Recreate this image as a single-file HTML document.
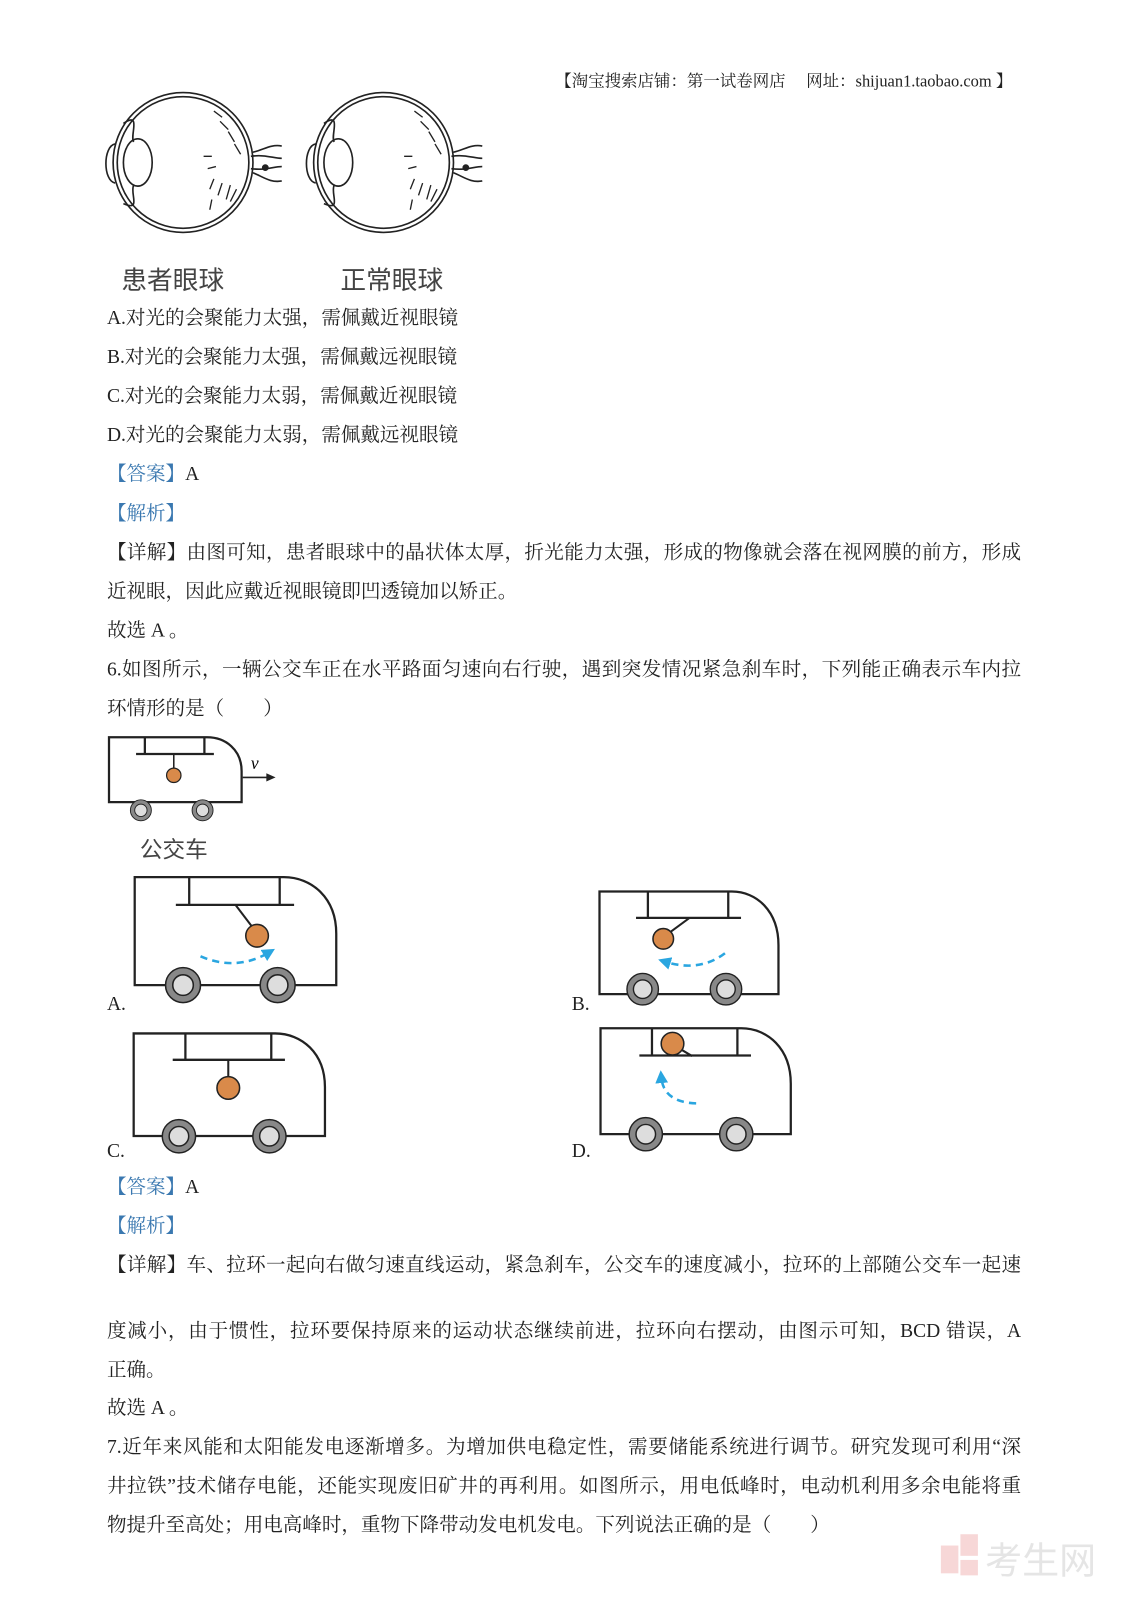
<!DOCTYPE html>
<html><head><meta charset="utf-8"><style>
html,body{margin:0;padding:0;background:#fff}
body{width:1131px;height:1600px;position:relative;overflow:hidden;font-family:"Liberation Serif","Noto Serif CJK SC",serif;color:#222}
#w{position:absolute;left:0;top:0;width:1100px;height:1556px;transform:scale(1.0283);transform-origin:0 0}
.l{position:absolute;left:104px;font-size:19px;line-height:26px;white-space:nowrap}
.j{width:889px;text-align:justify;text-align-last:justify}
.b{color:#3a78b0}
svg{position:absolute;left:0;top:0}
</style></head><body><div id="w">
<div class="l" style="left:540px;top:67px;font-size:16px">【淘宝搜索店铺：第一试卷网店　 网址：shijuan1.taobao.com 】</div>

<svg width="1100" height="1556" viewBox="0 0 1100 1556">
<defs>
<g id="eye" fill="none" stroke="#222" stroke-width="1.6">
<circle cx="0" cy="0" r="68"/><circle cx="0" cy="0" r="64"/>
<path d="M-66,-18 C-78,-16 -78,18 -66,20"/>
<path d="M-58,-38 C-40,-50 -52,-26 -48,-20 M-48,22 C-52,30 -40,48 -58,40"/>
<ellipse cx="-44" cy="0" rx="14" ry="23"/>
<path d="M66,-6 C80,-8 88,-4 96,-4 M66,6 C80,8 88,4 96,4 M68,-10 C78,-12 85,-18 96,-16 M68,10 C78,14 85,20 96,18"/>
<circle cx="80" cy="5" r="2.5" fill="#222"/>
<path d="M30,-50 l8,6 M36,-40 l8,8 M44,-30 l6,10 M50,-18 l6,10 M20,-6 l8,0 M24,6 l8,-2 M30,16 l-4,10 M38,20 l-4,12 M46,22 l-4,14 M52,26 l-6,12 M28,36 l-2,10" stroke-width="1.3"/>
</g>
<g id="bus" fill="none" stroke="#222" stroke-width="2.2">
<path d="M0,0 H145 C172,0 196,20 196,55 V105 H0 Z" vector-effect="non-scaling-stroke"/>
<path d="M53,0 V27 M141,0 V27 M40,27 H155" vector-effect="non-scaling-stroke"/>
</g>
<g id="wh"><circle r="17" fill="#888" stroke="#222" stroke-width="1.5"/><circle r="10" fill="#ddd" stroke="#222" stroke-width="1.5"/></g>
<marker id="ah" viewBox="0 0 10 10" refX="5" refY="5" markerWidth="5" markerHeight="5" orient="auto"><path d="M0,0 L10,5 L0,10 Z" fill="#2aa6e0"/></marker>
</defs>
<use href="#eye" x="178" y="158"/>
<use href="#eye" x="373" y="158"/>

<g transform="translate(106,717) scale(0.658,0.6)"><use href="#bus"/></g>
<use href="#wh" transform="translate(137,788) scale(0.6)"/>
<use href="#wh" transform="translate(197,788) scale(0.6)"/>
<line x1="169" y1="733" x2="169" y2="748" stroke="#222" stroke-width="1.5"/>
<circle cx="169" cy="754" r="7" fill="#d98a4a" stroke="#222" stroke-width="1.2"/>
<line x1="236" y1="756" x2="262" y2="756" stroke="#222" stroke-width="1.6"/>
<path d="M268,756 l-9,-4 v8 z" fill="#222"/>
<text x="244" y="748" font-size="17" font-style="italic" font-family="Liberation Serif">v</text>

<g transform="translate(131,853)"><use href="#bus"/></g>
<use href="#wh" transform="translate(178,958)"/><use href="#wh" transform="translate(270,958)"/>
<line x1="229" y1="880" x2="245" y2="901" stroke="#222" stroke-width="2"/>
<circle cx="250" cy="910" r="11" fill="#d98a4a" stroke="#222" stroke-width="1.5"/>
<path d="M195,930 Q230,945 262,926" fill="none" stroke="#2aa6e0" stroke-width="2.5" stroke-dasharray="7,5" marker-end="url(#ah)"/>

<g transform="translate(583,867) scale(0.888,0.95)"><use href="#bus"/></g>
<use href="#wh" transform="translate(625,962) scale(0.9)"/><use href="#wh" transform="translate(706,962) scale(0.9)"/>
<line x1="670" y1="893" x2="651" y2="907" stroke="#222" stroke-width="2"/>
<circle cx="645" cy="913" r="10" fill="#d98a4a" stroke="#222" stroke-width="1.5"/>
<path d="M705,927 Q680,946 646,935" fill="none" stroke="#2aa6e0" stroke-width="2.5" stroke-dasharray="7,5" marker-end="url(#ah)"/>

<g transform="translate(130,1005) scale(0.949,0.95)"><use href="#bus"/></g>
<use href="#wh" transform="translate(174,1105) scale(0.95)"/><use href="#wh" transform="translate(262,1105) scale(0.95)"/>
<line x1="222" y1="1031" x2="222" y2="1047" stroke="#222" stroke-width="2"/>
<circle cx="222" cy="1058" r="11" fill="#d98a4a" stroke="#222" stroke-width="1.5"/>

<g transform="translate(584,1000) scale(0.944,0.98)"><use href="#bus"/></g>
<use href="#wh" transform="translate(628,1103) scale(0.95)"/><use href="#wh" transform="translate(716,1103) scale(0.95)"/>
<line x1="658" y1="1018" x2="673" y2="1027" stroke="#222" stroke-width="2"/>
<circle cx="654" cy="1015" r="11" fill="#d98a4a" stroke="#222" stroke-width="1.5"/>
<path d="M677,1073 Q645,1072 643,1047" fill="none" stroke="#2aa6e0" stroke-width="2.5" stroke-dasharray="7,5" marker-end="url(#ah)"/>

<g opacity="0.5">
<rect x="915" y="1503" width="17" height="27" fill="#f0b0b0"/>
<rect x="934" y="1492" width="17" height="21" fill="#f0b0b0"/>
<rect x="934" y="1517" width="17" height="15" fill="#f0b0b0"/>
<text x="958" y="1530" font-size="36" fill="#ccc" font-family="Noto Sans CJK SC, sans-serif">考生网</text>
</g>
</svg>

<div class="l" style="left:118px;top:255px;font-size:25px;line-height:32px;color:#444;font-family:'Noto Sans CJK SC',sans-serif">患者眼球</div>
<div class="l" style="left:331px;top:255px;font-size:25px;line-height:32px;color:#444;font-family:'Noto Sans CJK SC',sans-serif">正常眼球</div>

<div class="l" style="top:297px">A.对光的会聚能力太强，需佩戴近视眼镜</div>
<div class="l" style="top:335px">B.对光的会聚能力太强，需佩戴远视眼镜</div>
<div class="l" style="top:373px">C.对光的会聚能力太弱，需佩戴近视眼镜</div>
<div class="l" style="top:411px">D.对光的会聚能力太弱，需佩戴远视眼镜</div>
<div class="l" style="top:449px"><span class="b">【答案】</span>A</div>
<div class="l b" style="top:487px">【解析】</div>
<div class="l j" style="top:525px">【详解】由图可知，患者眼球中的晶状体太厚，折光能力太强，形成的物像就会落在视网膜的前方，形成</div>
<div class="l" style="top:563px">近视眼，因此应戴近视眼镜即凹透镜加以矫正。</div>
<div class="l" style="top:601px">故选 A 。</div>
<div class="l j" style="top:639px">6.如图所示，一辆公交车正在水平路面匀速向右行驶，遇到突发情况紧急刹车时，下列能正确表示车内拉</div>
<div class="l" style="top:677px">环情形的是（　　）</div>
<div class="l" style="left:136px;top:810px;font-size:22px;line-height:30px;color:#444;font-family:'Noto Sans CJK SC',sans-serif">公交车</div>
<div class="l" style="top:964px">A.</div>
<div class="l" style="left:556px;top:964px">B.</div>
<div class="l" style="top:1107px">C.</div>
<div class="l" style="left:556px;top:1107px">D.</div>
<div class="l" style="top:1142px"><span class="b">【答案】</span>A</div>
<div class="l b" style="top:1180px">【解析】</div>
<div class="l j" style="top:1218px">【详解】车、拉环一起向右做匀速直线运动，紧急刹车，公交车的速度减小，拉环的上部随公交车一起速</div>
<div class="l j" style="top:1282px">度减小，由于惯性，拉环要保持原来的运动状态继续前进，拉环向右摆动，由图示可知，BCD 错误，A</div>
<div class="l" style="top:1320px">正确。</div>
<div class="l" style="top:1357px">故选 A 。</div>
<div class="l j" style="top:1395px">7.近年来风能和太阳能发电逐渐增多。为增加供电稳定性，需要储能系统进行调节。研究发现可利用“深</div>
<div class="l j" style="top:1433px">井拉铁”技术储存电能，还能实现废旧矿井的再利用。如图所示，用电低峰时，电动机利用多余电能将重</div>
<div class="l" style="top:1471px">物提升至高处；用电高峰时，重物下降带动发电机发电。下列说法正确的是（　　）</div>
</div></body></html>
